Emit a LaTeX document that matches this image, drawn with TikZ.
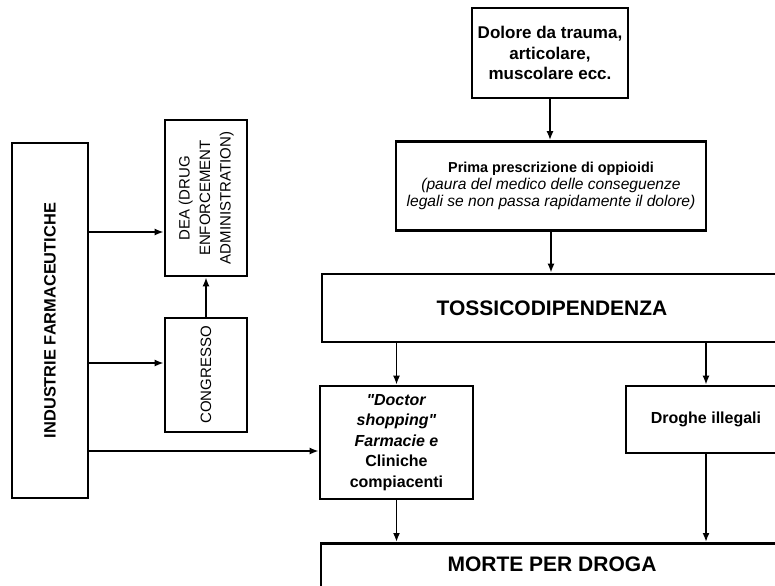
\documentclass[tikz,border=0pt]{standalone}
\usepackage{fontspec}
\setmainfont{Liberation Sans}[Ligatures=TeXOff]
\usetikzlibrary{arrows.meta}
\begin{document}
\begin{tikzpicture}[x=0.5pt,y=-0.5pt,
		box/.style={draw=black,line width=1.3pt,inner sep=0pt,align=center},
		arr/.style={->,>={Latex[length=4.5pt,width=3.5pt]},line width=0.9pt}]
		\useasboundingbox (0,0) rectangle (775,585);
		\clip (0,0) rectangle (775,585);
		\node at (550,53) [box,minimum width=78pt,minimum height=45pt,font=\bfseries\fontsize{8.5}{10.2}\selectfont] (dolore) {Dolore da trauma,\\articolare,\\muscolare ecc.};
		\node at (551,186) [box,minimum width=155pt,minimum height=44.5pt,font=\fontsize{7.8}{8.4}\selectfont] (prima) {\textbf{\fontsize{7.2}{8.4}\selectfont Prima prescrizione di oppioidi}\\\textit{(paura del medico delle conseguenze}\\\textit{legali se non passa rapidamente il dolore)}};
		\node at (552,308) [box,minimum width=230pt,minimum height=34pt,font=\bfseries\fontsize{10.5}{12}\selectfont] (tossico) {TOSSICODIPENDENZA};
		\node at (396.5,442.5) [box,minimum width=76.5pt,minimum height=56.5pt,font=\bfseries\fontsize{8}{10.3}\selectfont] (doctor) {\textit{"Doctor}\\\textit{shopping"}\\\textit{Farmacie e}\\Cliniche\\compiacenti};
		\node at (706,419.5) [box,minimum width=80pt,minimum height=33.5pt,font=\bfseries\fontsize{8}{10}\selectfont] (droghe) {Droghe illegali};
		\node at (552,542) [box,anchor=north,minimum width=231pt,text height=14pt,text depth=16pt,font=\bfseries\fontsize{10.5}{12}\selectfont] (morte) {MORTE PER DROGA};
		\node at (50,320.5) [box,minimum width=38pt,minimum height=177.5pt,font=\bfseries\fontsize{8.2}{10}\selectfont] (industrie) {\rotatebox{90}{INDUSTRIE FARMACEUTICHE}};
		\node at (206,198) [box,minimum width=41pt,minimum height=78pt,font=\fontsize{7.5}{10.3}\selectfont] (dea) {\rotatebox{90}{\begin{tabular}{@{}c@{}}DEA (DRUG\\ENFORCEMENT\\ADMINISTRATION)\end{tabular}}};
		\node at (206,375) [box,minimum width=41pt,minimum height=57pt,font=\fontsize{7.5}{9}\selectfont] (congresso) {\rotatebox{90}{CONGRESSO}};
		\draw[arr] (dolore.south) -- (dolore.south |- prima.north);
		\draw[arr] (prima.south) -- (prima.south |- tossico.north);
		\draw[arr] (tossico.south -| doctor.north) -- (doctor.north);
		\draw[arr] (tossico.south -| droghe.north) -- (droghe.north);
		\draw[arr] (doctor.south) -- (doctor.south |- morte.north);
		\draw[arr] (droghe.south) -- (droghe.south |- morte.north);
		\draw[arr] (congresso.north) -- (dea.south);
		\draw[arr] (industrie.east |- 0,232) -- (dea.west |- 0,232);
		\draw[arr] (industrie.east |- 0,363) -- (congresso.west |- 0,363);
		\draw[arr] (industrie.east |- 0,451) -- (doctor.west |- 0,451);
	\end{tikzpicture}
\end{document}
